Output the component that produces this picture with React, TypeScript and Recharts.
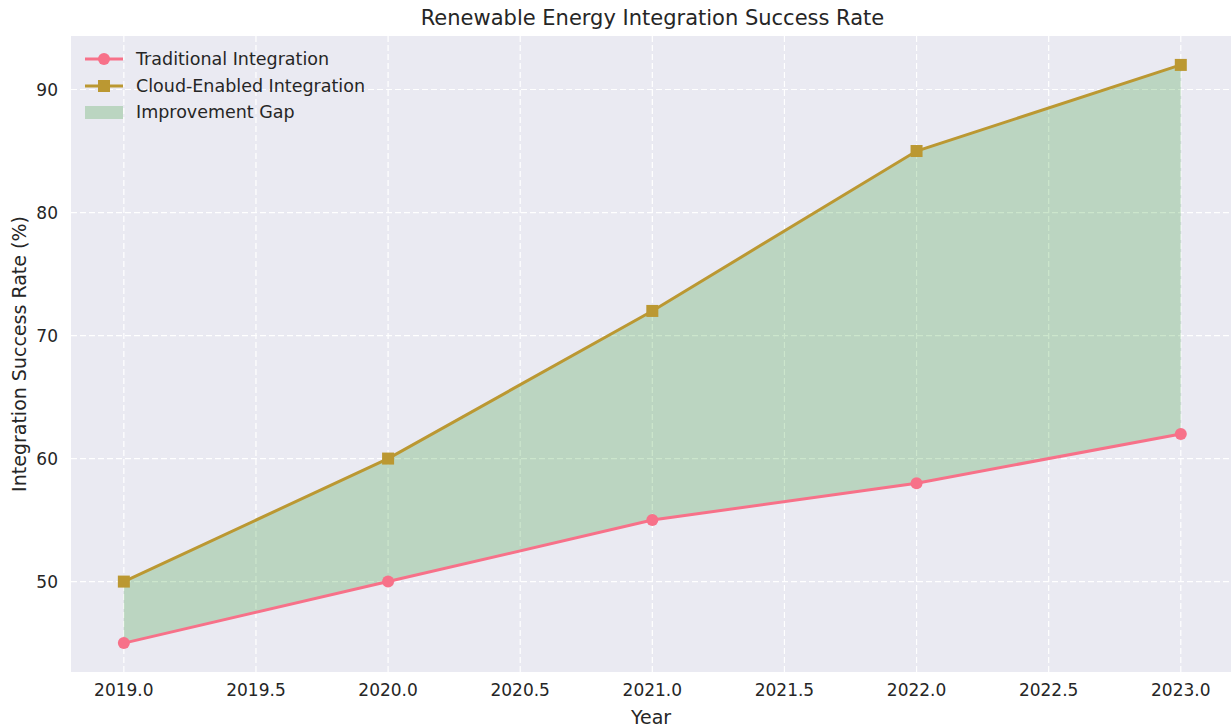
import { Area, CartesianGrid, ComposedChart, Line, XAxis, YAxis } from "recharts";

const years = [2019, 2020, 2021, 2022, 2023];
const traditional = [45, 50, 55, 58, 62];
const cloudEnabled = [50, 60, 72, 85, 92];
const xTicks = [2019, 2019.5, 2020, 2020.5, 2021, 2021.5, 2022, 2022.5, 2023];
const yTicks = [50, 60, 70, 80, 90];

const PINK = "#f77189";
const GOLD = "#bb9832";
const FONT = "'DejaVu Sans', sans-serif";
const TEXT = "#262626";

const data = years.map((year, i) => ({
  year,
  traditional: traditional[i],
  cloud: cloudEnabled[i],
  gap: [traditional[i], cloudEnabled[i]],
}));

const SquareDot = (props: any) => {
  const { cx, cy } = props;
  if (cx == null || cy == null) return null;
  return <rect x={cx - 6} y={cy - 6} width={12} height={12} fill={GOLD} />;
};

function ChartLegend() {
  const row = { display: "flex", alignItems: "center", height: 26.5 };
  const label = { marginLeft: 12, fontSize: 17.5, color: TEXT, fontFamily: FONT };
  return (
    <div style={{ position: "absolute", left: 84, top: 46 }}>
      <div style={row}>
        <svg width={40} height={14}>
          <line x1={1} y1={7} x2={39} y2={7} stroke={PINK} strokeWidth={3} />
          <circle cx={20} cy={7} r={6} fill={PINK} />
        </svg>
        <span style={label}>Traditional Integration</span>
      </div>
      <div style={row}>
        <svg width={40} height={14}>
          <line x1={1} y1={7} x2={39} y2={7} stroke={GOLD} strokeWidth={3} />
          <rect x={14} y={1} width={12} height={12} fill={GOLD} />
        </svg>
        <span style={label}>Cloud-Enabled Integration</span>
      </div>
      <div style={row}>
        <svg width={40} height={14}>
          <rect x={1} y={1} width={38} height={13} fill="green" fillOpacity={0.2} />
        </svg>
        <span style={label}>Improvement Gap</span>
      </div>
    </div>
  );
}

export default function App() {
  return (
    <div
      style={{
        position: "absolute",
        left: 0,
        top: 0,
        width: 1231,
        height: 726,
        background: "#fff",
        fontFamily: FONT,
      }}
    >
      <div
        style={{
          position: "absolute",
          left: 71,
          width: 1163,
          top: 5,
          textAlign: "center",
          fontSize: 21,
          lineHeight: "26px",
          color: TEXT,
        }}
      >
        Renewable Energy Integration Success Rate
      </div>
      <div
        style={{
          position: "absolute",
          left: 19,
          top: 354,
          transform: "translate(-50%, -50%) rotate(-90deg)",
          whiteSpace: "nowrap",
          fontSize: 19,
          color: TEXT,
        }}
      >
        Integration Success Rate (%)
      </div>
      <ComposedChart
        width={1231}
        height={726}
        data={data}
        margin={{ top: 36, right: 0, left: 0, bottom: 0 }}
      >
        <CartesianGrid
          stroke="#ffffff"
          strokeDasharray="6 3"
          strokeWidth={1.2}
          fill="#eaeaf2"
          horizontalValues={yTicks}
          verticalValues={xTicks}
        />
        <XAxis
          dataKey="year"
          type="number"
          domain={[2018.8, 2023.19]}
          ticks={xTicks}
          allowDataOverflow
          tickFormatter={(v: number) => v.toFixed(1)}
          tickLine={false}
          axisLine={false}
          tickSize={6}
          tickMargin={6}
          height={54}
          tick={{ fontSize: 17, fill: TEXT, fontFamily: FONT }}
          label={{
            value: "Year",
            position: "insideBottom",
            offset: 0,
            dy: -2,
            fontSize: 19,
            fill: TEXT,
            fontFamily: FONT,
          }}
        />
        <YAxis
          type="number"
          domain={[42.65, 94.35]}
          ticks={yTicks}
          allowDataOverflow
          tickLine={false}
          axisLine={false}
          tickSize={6}
          tickMargin={7}
          width={71}
          tick={{ fontSize: 17, fill: TEXT, fontFamily: FONT }}
        />
        <Area
          dataKey="gap"
          type="linear"
          fill="green"
          fillOpacity={0.2}
          stroke="none"
          isAnimationActive={false}
          legendType="none"
        />
        <Line
          dataKey="traditional"
          type="linear"
          stroke={PINK}
          strokeWidth={3}
          dot={{ r: 6, fill: PINK, stroke: PINK, strokeWidth: 0 }}
          activeDot={false}
          isAnimationActive={false}
        />
        <Line
          dataKey="cloud"
          type="linear"
          stroke={GOLD}
          strokeWidth={3}
          dot={<SquareDot />}
          activeDot={false}
          isAnimationActive={false}
        />
      </ComposedChart>
      <ChartLegend />
    </div>
  );
}
